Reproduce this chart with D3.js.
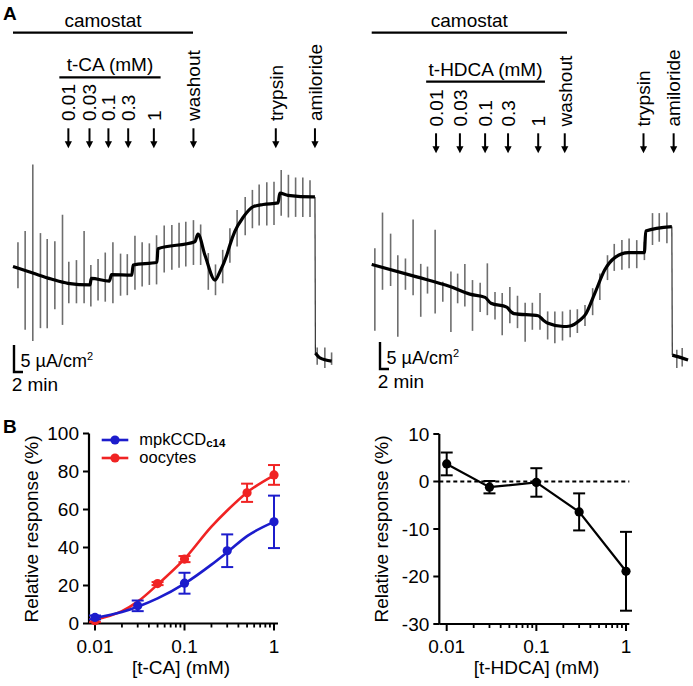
<!DOCTYPE html>
<html><head><meta charset="utf-8">
<script src="https://cdn.jsdelivr.net/npm/d3@7"></script>
<style>body{margin:0;background:#fff}svg{display:block}text{font-family:"Liberation Sans",Arial,sans-serif;fill:#000}</style>
</head><body><svg id="c" width="693" height="686"></svg>
<script>
// ---------- Panel A data (time in min, current in µA/cm²) ----------
const traceLeft = [[0,17.3],[4.4,16.1],[8.5,15.0],[12.2,14.2],[17.1,13.9],[17.4,15.1],[21.4,14.6],[21.9,15.8],[26.4,15.7],[26.7,17.6],[32.0,18.1],[32.2,20.6],[40.4,21.9],[41.1,23.3],[42.7,19.3],[44.9,14.8],[46.0,16.4],[47.5,19.4],[48.2,21.3],[49.3,23.8],[51.2,26.5],[53.4,28.4],[55.6,28.8],[58.9,29.1],[59.3,30.9],[61.1,30.5],[66.7,30.2],[67.1,30.2]];
const traceLeftAmil = [[67.2,1.3],[68.2,0.4],[70.8,-0.2]];
const spikesLeft = [[1.1,21.8,13.3],[2.7,23.9,5.6],[4.4,36.2,3.5],[6.1,23.5,5.9],[7.6,22.4,5.9],[9.3,22.0,9.4],[11.0,26.9,6.5],[12.4,18.2,10.5],[14.1,18.5,10.5],[15.8,23.9,10.5],[17.3,17.6,9.9],[18.9,18.7,11.0],[20.5,19.9,10.8],[22.2,21.8,10.5],[23.9,19.7,11.9],[25.4,19.6,12.0],[27.1,23.0,13.0],[28.7,21.8,13.6],[30.3,21.6,13.9],[31.9,23.1,14.0],[33.6,24.9,16.2],[35.3,25.0,16.7],[36.9,25.4,17.1],[38.4,25.6,17.3],[40.1,25.9,17.6],[41.7,25.1,17.6],[43.4,19.8,13.0],[45.0,17.7,12.0],[46.6,20.4,14.2],[48.2,24.4,18.0],[49.8,27.8,21.0],[51.6,30.2,23.1],[53.2,31.5,24.4],[54.7,32.5,24.9],[56.4,32.9,24.9],[58.0,33.0,25.0],[59.6,35.2,26.7],[61.2,34.3,26.4],[62.8,33.8,26.5],[64.4,33.8,26.5],[66.0,33.3,26.5],[67.6,2.3,-0.9],[69.3,2.3,-1.5],[70.8,1.4,-0.9]];
const traceRight = [[0,17.7],[10.0,15.4],[17.4,13.6],[21.8,12.2],[25.2,11.6],[26.5,10.5],[30.0,9.8],[31.0,8.9],[31.6,8.6],[37.0,8.2],[38.1,7.4],[39.2,6.8],[42.6,6.2],[44.1,6.3],[46.3,7.4],[47.4,8.3],[49.6,12.4],[51.8,16.7],[54.1,19.0],[57.0,19.9],[60.6,19.9],[60.9,23.9],[66.7,24.7]];
const traceRightAmil = [[66.8,0.9],[69.2,0.3],[70.3,0.0]];
const spikesRight = [[0.7,20.7,5.4],[2.4,27.3,13.0],[4.2,23.4,13.7],[5.8,19.4,4.3],[7.5,18.8,13.0],[9.2,26.0,12.0],[10.9,17.8,8.0],[12.4,17.3,12.3],[14.1,24.1,8.6],[15.8,14.5,10.8],[17.6,16.4,5.2],[19.1,16.0,10.5],[20.7,17.8,9.9],[22.4,14.8,5.4],[24.1,14.3,8.9],[25.7,17.9,8.3],[27.4,12.6,7.5],[29.0,12.4,4.6],[30.7,13.5,6.8],[32.4,11.9,5.9],[34.1,10.6,3.4],[35.7,10.6,5.6],[37.4,12.4,5.6],[39.1,9.0,3.8],[40.7,9.0,3.1],[42.4,9.0,3.6],[44.1,9.3,4.2],[45.7,9.4,5.0],[47.4,10.2,6.3],[49.1,13.3,8.3],[50.7,16.0,11.1],[52.4,19.4,14.8],[53.9,21.5,16.5],[55.6,22.2,16.7],[57.2,22.5,17.0],[58.9,22.2,17.0],[60.6,21.9,18.5],[62.4,27.2,21.3],[63.9,27.2,21.9],[65.6,27.3,21.6],[67.8,1.9,-1.5],[69.0,2.2,-1.2]];
const arrowLabels = ["0.01","0.03","0.1","0.3","1","washout","trypsin","amiloride"];
const arrowTimesLeft = [12.3,17.0,21.2,25.6,31.3,40.1,58.4,67.1];
const arrowTimesRight = [14.3,19.6,25.2,30.3,37.0,42.9,60.4,67.1];
const camostatLeft = [0,40.0], camostatRight = [0,43.4];
const drugLeft = [10.3,32.8], drugRight = [12.1,38.5];
const drugNames = ["t-CA (mM)","t-HDCA (mM)"];

// ---------- Panel B data ----------
const tcaConc = [0.01,0.03,0.1,0.3,1];
const mpkMean = [3.2,9.3,21.2,38.3,53.5];
const mpkErr  = [1.0,2.8,5.5,8.6,13.8];
const oocConc = [0.01,0.05,0.1,0.5,1];
const oocMean = [1.5,21.0,33.9,68.8,78.2];
const oocErr  = [0.8,0.8,1.6,4.8,5.2];
const fitConc = [0.01,0.02,0.03,0.05,0.1,0.2,0.3,0.5,1];
const mpkFit  = [3.0,6.0,8.8,13.2,21.0,31.0,37.5,46.0,53.5];
const oocFit  = [2.0,6.5,11.5,20.5,34.0,51.0,59.5,69.0,78.0];
const hdcaConc = [0.01,0.03,0.1,0.3,1];
const hdcaMean = [3.7,-1.2,-0.2,-6.4,-18.9];
const hdcaErr  = [2.4,1.3,3.0,3.9,8.3];
const tcaYTicks = [0,20,40,60,80,100];
const hdcaYTicks = [-30,-20,-10,0,10];
const logTicks = [0.01,0.1,1];
const logTickLabels = ["0.01","0.1","1"];

const BLUE = "#1c1ccc", RED = "#f02323";
const svg = d3.select("#c");
svg.append("rect").attr("width",693).attr("height",686).attr("fill","#fff");

svg.append("text").attr("x",3).attr("y",20).attr("font-size",19).attr("font-weight","bold").text("A");
svg.append("text").attr("x",3).attr("y",433).attr("font-size",19).attr("font-weight","bold").text("B");

// ---------- Trace panels ----------
function tracePanel(o){
  const x = d3.scaleLinear().domain([0,71]).range([o.x0, o.x0 + 71*4.5]);
  const y = d3.scaleLinear().domain([0,35]).range([360, 360-35*5.4]);
  const g = svg.append("g");
  g.append("line").attr("x1",x(o.camo[0])).attr("x2",x(o.camo[1])).attr("y1",32.7).attr("y2",32.7).attr("stroke","#000").attr("stroke-width",2.2);
  g.append("text").attr("x",(x(o.camo[0])+x(o.camo[1]))/2).attr("y",26.5).attr("text-anchor","middle").attr("font-size",19).text("camostat");
  g.append("line").attr("x1",x(o.drug[0])).attr("x2",x(o.drug[1])).attr("y1",o.drugY).attr("y2",o.drugY).attr("stroke","#000").attr("stroke-width",2.2);
  g.append("text").attr("x",(x(o.drug[0])+x(o.drug[1]))/2).attr("y",o.drugY-6).attr("text-anchor","middle").attr("font-size",19).text(o.drugName);
  o.arrows.forEach((t,i)=>{
    const ax = x(t);
    g.append("line").attr("x1",ax).attr("x2",ax).attr("y1",o.arrowY).attr("y2",o.arrowY+14).attr("stroke","#000").attr("stroke-width",2);
    g.append("path").attr("d",`M${ax-3.6},${o.arrowY+13} L${ax+3.6},${o.arrowY+13} L${ax},${o.arrowY+20} Z`).attr("fill","#000");
    g.append("text").attr("transform",`translate(${ax},${o.labelY}) rotate(-90)`).attr("dy","0.36em").attr("font-size",19).text(arrowLabels[i]);
  });
  g.selectAll(null).data(o.spikes).enter().append("line")
    .attr("x1",d=>x(d[0])).attr("x2",d=>x(d[0])).attr("y1",d=>y(d[1])).attr("y2",d=>y(d[2]))
    .attr("stroke","#6e6e6e").attr("stroke-width",1.6);
  const line = d3.line().x(d=>x(d[0])).y(d=>y(d[1])).curve(d3.curveMonotoneX);
  const last = o.trace[o.trace.length-1], first = o.amil[0];
  g.append("line").attr("x1",x(last[0])).attr("x2",x(first[0])).attr("y1",y(last[1])).attr("y2",y(first[1])).attr("stroke","#333").attr("stroke-width",1.2);
  g.append("path").attr("d",line(o.trace)).attr("fill","none").attr("stroke","#000").attr("stroke-width",3.2);
  g.append("path").attr("d",line(o.amil)).attr("fill","none").attr("stroke","#000").attr("stroke-width",3.2);
  const sb = o.sb;
  const vlen = y(0)-y(5), hlen = x(2)-x(0);
  g.append("path").attr("d",`M${sb[0]},${sb[1]-vlen} V${sb[1]} H${sb[0]+hlen}`).attr("fill","none").attr("stroke","#000").attr("stroke-width",2.4);
  const t1 = g.append("text").attr("x",sb[0]+6.5).attr("y",sb[1]-5.5).attr("font-size",18);
  t1.append("tspan").text("5 µA/cm");
  t1.append("tspan").attr("dy",-7).attr("font-size",11).text("2");
  g.append("text").attr("x",sb[0]-2.3).attr("y",sb[1]+o.minDy).attr("font-size",19).text("2 min");
}
tracePanel({x0:13, trace:traceLeft, amil:traceLeftAmil, spikes:spikesLeft, arrows:arrowTimesLeft,
  camo:camostatLeft, drug:drugLeft, drugName:drugNames[0], drugY:77.3, arrowY:128.3, labelY:121, sb:[14,372], minDy:19});
tracePanel({x0:371.7, trace:traceRight, amil:traceRightAmil, spikes:spikesRight, arrows:arrowTimesRight,
  camo:camostatRight, drug:drugRight, drugName:drugNames[1], drugY:81.7, arrowY:133.3, labelY:126.5, sb:[380,369], minDy:19});

// ---------- Dose-response panels ----------
function logAxes(g, x, y, yTicks, xL, xR, yTop, yBot){
  g.append("line").attr("x1",xL).attr("x2",xL).attr("y1",yTop).attr("y2",yBot).attr("stroke","#000").attr("stroke-width",2.2);
  g.append("line").attr("x1",xL).attr("x2",xR).attr("y1",yBot).attr("y2",yBot).attr("stroke","#000").attr("stroke-width",2.2);
  yTicks.forEach(v=>{
    g.append("line").attr("x1",xL-6).attr("x2",xL).attr("y1",y(v)).attr("y2",y(v)).attr("stroke","#000").attr("stroke-width",2);
    g.append("text").attr("x",xL-10).attr("y",y(v)).attr("dy","0.35em").attr("text-anchor","end").attr("font-size",19).text(v);
  });
  const minors = [];
  [0.01,0.1].forEach(d=>{for(let k=2;k<=9;k++) minors.push(d*k);});
  minors.forEach(v=>{
    g.append("line").attr("x1",x(v)).attr("x2",x(v)).attr("y1",yBot).attr("y2",yBot+4).attr("stroke","#000").attr("stroke-width",1.8);
  });
  logTicks.forEach((v,i)=>{
    g.append("line").attr("x1",x(v)).attr("x2",x(v)).attr("y1",yBot).attr("y2",yBot+7).attr("stroke","#000").attr("stroke-width",2);
    g.append("text").attr("x",x(v)).attr("y",yBot+29).attr("text-anchor","middle").attr("font-size",19).text(logTickLabels[i]);
  });
}
function errBars(g, x, y, xs, m, e, color){
  xs.forEach((c,i)=>{
    const cx = x(c);
    g.append("line").attr("x1",cx).attr("x2",cx).attr("y1",y(m[i]+e[i])).attr("y2",y(m[i]-e[i])).attr("stroke",color).attr("stroke-width",2);
    [m[i]+e[i], m[i]-e[i]].forEach(v=>g.append("line").attr("x1",cx-6).attr("x2",cx+6).attr("y1",y(v)).attr("y2",y(v)).attr("stroke",color).attr("stroke-width",2));
    g.append("circle").attr("cx",cx).attr("cy",y(m[i])).attr("r",4.6).attr("fill",color);
  });
}

// B left: t-CA
{
  const g = svg.append("g");
  const x = d3.scaleLog().domain([0.00857,1.108]).range([89,278]);
  const y = d3.scaleLinear().domain([0,100]).range([623.5,433.5]);
  logAxes(g, x, y, tcaYTicks, 89, 278, 433.5, 623.5);
  const fl = d3.line().x((d,i)=>x(fitConc[i])).y(d=>y(d)).curve(d3.curveMonotoneX);
  g.append("path").attr("d",fl(oocFit)).attr("fill","none").attr("stroke",RED).attr("stroke-width",2.6);
  g.append("path").attr("d",fl(mpkFit)).attr("fill","none").attr("stroke",BLUE).attr("stroke-width",2.6);
  errBars(g, x, y, oocConc, oocMean, oocErr, RED);
  errBars(g, x, y, tcaConc, mpkMean, mpkErr, BLUE);
  g.append("text").attr("transform","translate(31.5,529) rotate(-90)").attr("dy","0.35em").attr("text-anchor","middle").attr("font-size",19).text("Relative response (%)");
  g.append("text").attr("x",181).attr("y",674).attr("text-anchor","middle").attr("font-size",19).text("[t-CA] (mM)");
  const leg = [{c:BLUE,y:440,label:"mpkCCD",sub:"c14"},{c:RED,y:458,label:"oocytes",sub:null}];
  leg.forEach(l=>{
    g.append("line").attr("x1",101.7).attr("x2",128.3).attr("y1",l.y).attr("y2",l.y).attr("stroke",l.c).attr("stroke-width",2.6);
    g.append("circle").attr("cx",115).attr("cy",l.y).attr("r",4.6).attr("fill",l.c);
    const t = g.append("text").attr("x",139.3).attr("y",l.y+5).attr("font-size",16.5);
    t.append("tspan").text(l.label);
    if(l.sub) t.append("tspan").attr("dy",2).attr("font-size",11.5).attr("font-weight","bold").text(l.sub);
  });
}
// B right: t-HDCA
{
  const g = svg.append("g");
  const x = d3.scaleLog().domain([0.00827,1.088]).range([439.3,629.3]);
  const y = d3.scaleLinear().domain([-30,10]).range([624,434]);
  logAxes(g, x, y, hdcaYTicks, 439.3, 629.3, 434, 624);
  g.append("line").attr("x1",439.3).attr("x2",629.3).attr("y1",y(0)).attr("y2",y(0)).attr("stroke","#000").attr("stroke-width",1.8).attr("stroke-dasharray","4,3");
  const l = d3.line().x((d,i)=>x(hdcaConc[i])).y(d=>y(d));
  g.append("path").attr("d",l(hdcaMean)).attr("fill","none").attr("stroke","#000").attr("stroke-width",2.2);
  errBars(g, x, y, hdcaConc, hdcaMean, hdcaErr, "#000");
  g.append("text").attr("transform","translate(381.5,529) rotate(-90)").attr("dy","0.35em").attr("text-anchor","middle").attr("font-size",19).text("Relative response (%)");
  g.append("text").attr("x",536.5).attr("y",674).attr("text-anchor","middle").attr("font-size",19).text("[t-HDCA] (mM)");
}
</script></body></html>
